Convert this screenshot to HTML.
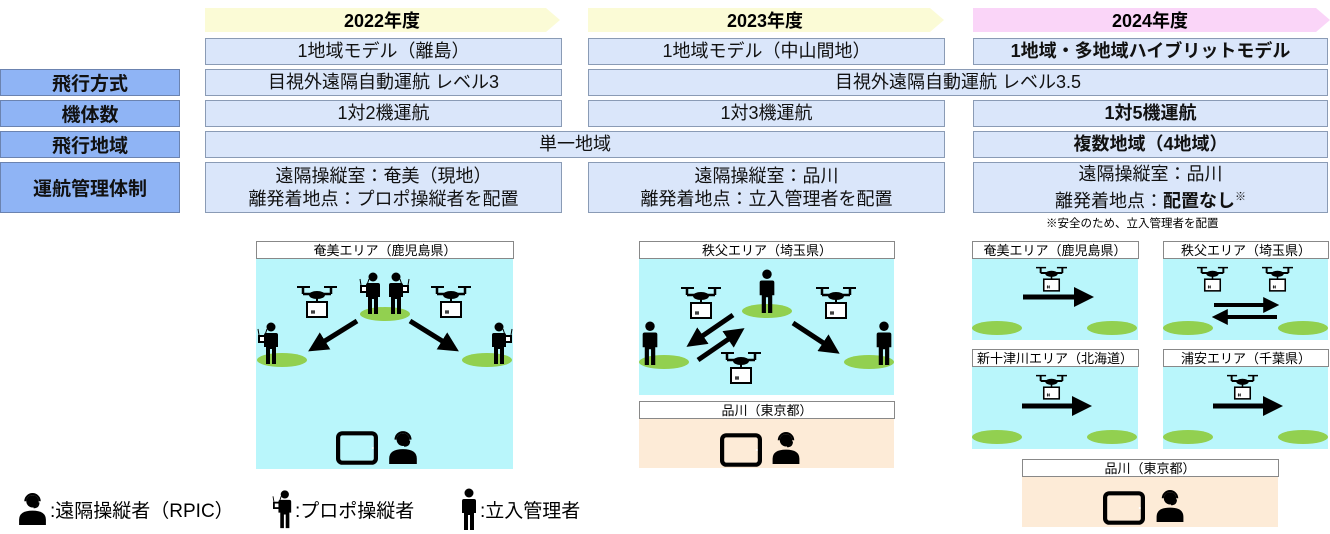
<!DOCTYPE html>
<html><head><meta charset="utf-8"><style>
body{margin:0;width:1330px;height:534px;background:#fff;position:relative;overflow:hidden;font-family:"Liberation Sans","Noto Sans CJK JP",sans-serif;color:#111}
.b{position:absolute;box-sizing:border-box;border:1px solid #8a9bb5;background:#dae6fa;display:flex;align-items:center;justify-content:center;text-align:center;font-size:18px;line-height:23px}
.l{position:absolute;box-sizing:border-box;border:1px solid #6b83b0;background:#8fb4f5;display:flex;align-items:center;justify-content:center;font-size:19px;font-weight:bold;left:0;width:180px}
.bd{font-weight:bold}
svg{position:absolute;left:0;top:0}
</style></head><body>
<svg width="1330" height="534" viewBox="0 0 1330 534">
<defs>
<symbol id="drone" viewBox="0 0 40 36" overflow="visible">
<path d="M0 2H13M27 2H40" stroke="#000" stroke-width="2"/>
<path d="M6 2V9M34 2V9M6 9H34" stroke="#000" stroke-width="2.5"/>
<ellipse cx="20" cy="10" rx="8" ry="4"/>
<path d="M20 12V17" stroke="#000" stroke-width="2"/>
<rect x="10" y="17" width="20" height="15" fill="#fff" stroke="#000" stroke-width="2"/>
<path d="M14 27H18M15 25V29M17 25V29" stroke="#000" stroke-width="1"/>
</symbol>
<symbol id="person" viewBox="0 0 16 42" overflow="visible">
<circle cx="8" cy="5" r="4.5"/>
<path d="M3 11H13Q15 11 15 13V25H13V42H9V27H7V42H3V25H1V13Q1 11 3 11Z"/>
</symbol>
<symbol id="prop" viewBox="0 0 22 42" overflow="visible">
<circle cx="13" cy="5" r="4.5"/>
<path d="M8 11H18Q20 11 20 13V25H18V42H14V27H12V42H8V25H6V13Q6 11 8 11Z"/>
<rect x="0" y="13" width="8" height="8" fill="#000"/>
<rect x="2" y="15" width="4" height="4" fill="#fff"/>
<path d="M1 13L0 7M7 13L9 7" stroke="#000" stroke-width="1"/>
</symbol>
<symbol id="rpic" viewBox="0 0 26 32" overflow="visible">
<circle cx="13" cy="9" r="6"/>
<path d="M6 9A7 7 0 0 1 20 9" stroke="#000" stroke-width="2" fill="none"/>
<path d="M19 10Q19 15 14 15" stroke="#000" stroke-width="1.5" fill="none"/>
<path d="M0 32V27Q0 18 13 18Q26 18 26 27V32Z"/>
</symbol>
<symbol id="tab" viewBox="0 0 40 32" overflow="visible">
<rect x="2" y="2" width="36" height="28" rx="4" fill="none" stroke="#000" stroke-width="4"/>
<circle cx="35" cy="16" r="1" fill="#fff"/>
</symbol>
<marker id="ah" viewBox="0 0 10 10" refX="3" refY="5" markerWidth="4" markerHeight="4" orient="auto"><path d="M0 0L10 5L0 10Z"/></marker>
</defs>
<polygon points="205,8 546,8 560,20 546,32 205,32" fill="#fbfbd6"/>
<polygon points="588,8 930,8 944,20 930,32 588,32" fill="#fbfbd6"/>
<polygon points="973,8 1316,8 1330,20 1316,32 973,32" fill="#fad5f8"/>
<text x="382" y="27" font-size="18" font-weight="bold" text-anchor="middle">2022年度</text>
<text x="765" y="27" font-size="18" font-weight="bold" text-anchor="middle">2023年度</text>
<text x="1150" y="27" font-size="18" font-weight="bold" text-anchor="middle">2024年度</text>

<rect x="256.5" y="241.5" width="257" height="17" fill="#fff" stroke="#888"/>
<text x="385" y="255" font-size="13" text-anchor="middle">奄美エリア（鹿児島県）</text>
<rect x="256" y="259" width="257" height="210" fill="#b9f6fb"/>
<ellipse cx="385" cy="314" rx="25" ry="7" fill="#92d050"/>
<ellipse cx="282" cy="360" rx="25" ry="7" fill="#92d050"/>
<ellipse cx="487" cy="360" rx="25" ry="7" fill="#92d050"/>
<use href="#prop" x="360" y="272" width="22" height="42"/>
<use href="#prop" x="387" y="272" width="22" height="42" transform="translate(796,0) scale(-1,1)"/>
<use href="#prop" x="258" y="322" width="22" height="42"/>
<use href="#prop" x="490" y="322" width="22" height="42" transform="translate(1002,0) scale(-1,1)"/>
<use href="#drone" x="297" y="284" width="40" height="38"/>
<use href="#drone" x="431" y="284" width="40" height="38"/>
<path d="M357 321L320 344" stroke="#000" stroke-width="5" marker-end="url(#ah)"/>
<path d="M410 321L447 344" stroke="#000" stroke-width="5" marker-end="url(#ah)"/>
<use href="#tab" x="336" y="431" width="42" height="34"/>
<use href="#rpic" x="389" y="430" width="28" height="34"/>

<rect x="639.5" y="241.5" width="255" height="17" fill="#fff" stroke="#888"/>
<text x="767" y="255" font-size="13" text-anchor="middle">秩父エリア（埼玉県）</text>
<rect x="639" y="259" width="255" height="136" fill="#b9f6fb"/>
<ellipse cx="767" cy="311" rx="25" ry="7" fill="#92d050"/>
<ellipse cx="664" cy="362" rx="25" ry="7" fill="#92d050"/>
<ellipse cx="869" cy="362" rx="25" ry="7" fill="#92d050"/>
<use href="#person" x="758" y="269" width="18" height="44"/>
<use href="#person" x="641" y="321" width="18" height="44"/>
<use href="#person" x="875" y="321" width="18" height="44"/>
<use href="#drone" x="681" y="285" width="40" height="38"/>
<use href="#drone" x="816" y="285" width="40" height="38"/>
<use href="#drone" x="721" y="350" width="40" height="38"/>
<path d="M733 315L698 339" stroke="#000" stroke-width="5" marker-end="url(#ah)"/>
<path d="M698 360L733 336" stroke="#000" stroke-width="5" marker-end="url(#ah)"/>
<path d="M793 323L828 346" stroke="#000" stroke-width="5" marker-end="url(#ah)"/>
<rect x="639.5" y="401.5" width="255" height="17" fill="#fff" stroke="#888"/>
<text x="767" y="415" font-size="13" text-anchor="middle">品川（東京都）</text>
<rect x="639" y="419" width="255" height="49" fill="#fdebd7"/>
<use href="#tab" x="720" y="433" width="42" height="34"/>
<use href="#rpic" x="772" y="431" width="28" height="33"/>

<g font-size="13" text-anchor="middle">
<rect x="972.5" y="241.5" width="166" height="17" fill="#fff" stroke="#888"/><text x="1055" y="255">奄美エリア（鹿児島県）</text>
<rect x="1163.5" y="241.5" width="165" height="17" fill="#fff" stroke="#888"/><text x="1246" y="255">秩父エリア（埼玉県）</text>
<rect x="972.5" y="349.5" width="166" height="17" fill="#fff" stroke="#888"/><text x="1055" y="363">新十津川エリア（北海道）</text>
<rect x="1163.5" y="349.5" width="165" height="17" fill="#fff" stroke="#888"/><text x="1246" y="363">浦安エリア（千葉県）</text>
<rect x="1022.5" y="459.5" width="256" height="17" fill="#fff" stroke="#888"/><text x="1150" y="473">品川（東京都）</text>
</g>
<rect x="972" y="259" width="166" height="81" fill="#b9f6fb"/>
<rect x="1163" y="259" width="165" height="81" fill="#b9f6fb"/>
<rect x="972" y="367" width="166" height="82" fill="#b9f6fb"/>
<rect x="1163" y="367" width="165" height="82" fill="#b9f6fb"/>
<rect x="1022" y="477" width="256" height="50" fill="#fdebd7"/>
<g fill="#92d050">
<ellipse cx="997" cy="328" rx="25" ry="7"/><ellipse cx="1112" cy="328" rx="25" ry="7"/>
<ellipse cx="1188" cy="328" rx="25" ry="7"/><ellipse cx="1303" cy="328" rx="25" ry="7"/>
<ellipse cx="997" cy="437" rx="25" ry="7"/><ellipse cx="1112" cy="437" rx="25" ry="7"/>
<ellipse cx="1188" cy="437" rx="25" ry="7"/><ellipse cx="1303" cy="437" rx="25" ry="7"/>
</g>
<use href="#drone" x="1036" y="265" width="31" height="30"/>
<use href="#drone" x="1197" y="265" width="31" height="30"/>
<use href="#drone" x="1262" y="265" width="31" height="30"/>
<use href="#drone" x="1036" y="373" width="31" height="30"/>
<use href="#drone" x="1227" y="373" width="31" height="30"/>
<path d="M1023 297H1080" stroke="#000" stroke-width="5" marker-end="url(#ah)"/>
<path d="M1214 305H1268" stroke="#000" stroke-width="4" marker-end="url(#ah)"/>
<path d="M1277 317H1223" stroke="#000" stroke-width="4" marker-end="url(#ah)"/>
<path d="M1022 406H1078" stroke="#000" stroke-width="5" marker-end="url(#ah)"/>
<path d="M1213 406H1269" stroke="#000" stroke-width="5" marker-end="url(#ah)"/>
<use href="#tab" x="1103" y="491" width="42" height="34"/>
<use href="#rpic" x="1156" y="489" width="28" height="33"/>

<use href="#rpic" x="19" y="492" width="27" height="33"/>
<text x="50" y="517" font-size="19">:遠隔操縦者（RPIC）</text>
<use href="#prop" x="273" y="488" width="20" height="42"/>
<text x="295" y="517" font-size="19">:プロポ操縦者</text>
<use href="#person" x="461" y="488" width="16" height="42"/>
<text x="480" y="517" font-size="19">:立入管理者</text>
<text x="1046" y="227" font-size="11.5">※安全のため、立入管理者を配置</text>
</svg>

<div class="b" style="left:205px;top:38px;width:357px;height:27px">1地域モデル（離島）</div>
<div class="b" style="left:588px;top:38px;width:357px;height:27px">1地域モデル（中山間地）</div>
<div class="b bd" style="left:973px;top:38px;width:355px;height:27px">1地域・多地域ハイブリットモデル</div>

<div class="l" style="top:69px;height:27px">飛行方式</div>
<div class="b" style="left:205px;top:69px;width:357px;height:27px">目視外遠隔自動運航 レベル3</div>
<div class="b" style="left:588px;top:69px;width:740px;height:27px">目視外遠隔自動運航 レベル3.5</div>

<div class="l" style="top:100px;height:27px">機体数</div>
<div class="b" style="left:205px;top:100px;width:357px;height:27px">1対2機運航</div>
<div class="b" style="left:588px;top:100px;width:357px;height:27px">1対3機運航</div>
<div class="b bd" style="left:973px;top:100px;width:355px;height:27px">1対5機運航</div>

<div class="l" style="top:131px;height:27px">飛行地域</div>
<div class="b" style="left:205px;top:131px;width:740px;height:27px">単一地域</div>
<div class="b bd" style="left:973px;top:131px;width:355px;height:27px">複数地域（4地域）</div>

<div class="l" style="top:162px;height:51px">運航管理体制</div>
<div class="b" style="left:205px;top:162px;width:357px;height:51px">遠隔操縦室：奄美（現地）<br>離発着地点：プロポ操縦者を配置</div>
<div class="b" style="left:588px;top:162px;width:357px;height:51px">遠隔操縦室：品川<br>離発着地点：立入管理者を配置</div>
<div class="b" style="left:973px;top:162px;width:355px;height:51px"><span>遠隔操縦室：品川<br>離発着地点：<b>配置なし</b><sup style="font-size:11px">※</sup></span></div>
</body></html>
